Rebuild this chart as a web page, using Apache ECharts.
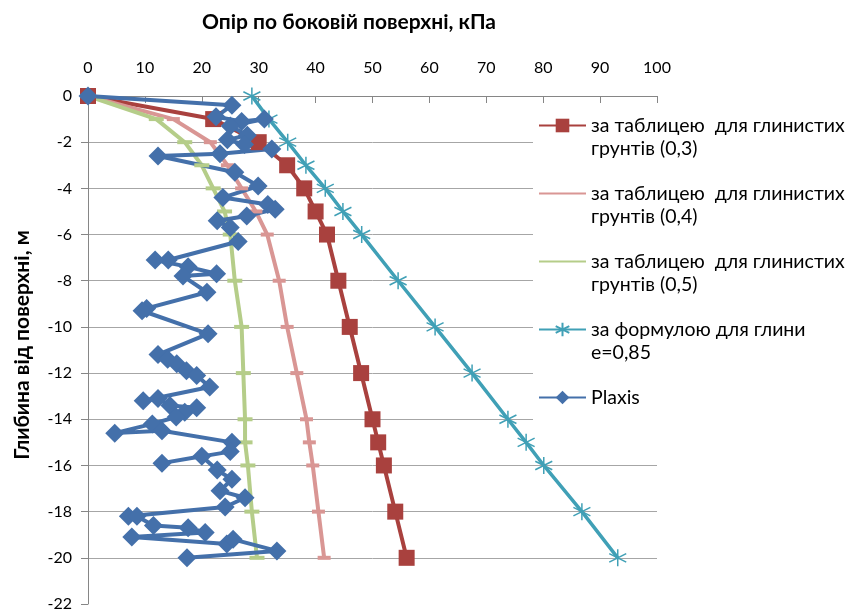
<!DOCTYPE html>
<html><head><meta charset="utf-8">
<script src="https://cdn.jsdelivr.net/npm/echarts@6/dist/echarts.min.js"></script>
<style>html,body{margin:0;padding:0;background:#fff}#c{width:849px;height:612px}</style>
</head><body><div id="c"></div>
<script>
// depths (m) for the table / formula curves
const depthTable = [0, -1, -2, -3, -4, -5, -6, -8, -10, -12, -14, -15, -16, -18, -20];
const table03 = [0, 22, 30, 35, 38, 40, 42, 44, 46, 48, 50, 51, 52, 54, 56];
const table04 = [0, 15, 21.5, 24.5, 27, 29.5, 31.5, 33.6, 35, 36.7, 38.4, 38.9, 39.5, 40.5, 41.5];
const table05 = [0, 12, 17, 20, 22, 24, 25, 25.8, 27, 27.3, 27.6, 27.6, 28.1, 28.8, 29.7];
const formula085 = [28.8, 31.8, 35.1, 38.3, 41.7, 44.8, 48.1, 54.5, 61, 67.5, 73.8, 77, 80.1, 86.8, 93.1];

const plaxisDepth = [0, -0.4, -0.9, -1.1, -1.0, -1.3, -1.7, -1.9, -2.1, -2.3, -2.5, -2.6, -3.3, -3.9, -4.4, -4.7, -4.9, -5.2, -5.4, -5.7, -6.3,
  -7.1, -7.1, -7.4, -7.7, -7.8, -8.5, -9.2, -9.3, -10.3, -11.2, -11.4, -11.6, -11.9, -12.1, -12.6,
  -13.2, -13.1, -13.4, -13.5, -13.7, -13.9, -14.2, -14.6, -14.5, -15.0, -15.4, -15.9, -15.6, -16.2, -16.6, -17.1, -17.4, -17.8,
  -18.2, -18.2, -18.6, -18.7, -18.9, -19.1, -19.4, -19.2, -19.7, -20.0];
const plaxisValue = [0, 25.3, 22.5, 27, 31, 25, 28, 24.5, 27.5, 32.3, 23.2, 12.3, 25.8, 29.9, 23.7, 31.6, 32.9, 27.9, 22.7, 25, 26.4,
  14.1, 11.8, 17.6, 22.6, 16.7, 20.9, 10.3, 9.5, 21.1, 12.3, 14, 15.6, 17.3, 19.1, 21.4,
  9.7, 12.3, 14.4, 19.1, 17, 15.5, 11.3, 4.7, 13, 25.3, 25, 13, 20, 22.7, 25.3, 23.2, 27.6, 24.1,
  7.1, 8.6, 11.5, 17.6, 20.6, 7.7, 24.4, 25.5, 33.2, 17.4];

const seriesNames = ['за таблицею  для глинистих\nгрунтів (0,3)', 'за таблицею  для глинистих\nгрунтів (0,4)',
  'за таблицею  для глинистих\nгрунтів (0,5)', 'за формулою для глини\ne=0,85', 'Plaxis'];
const xAxisTitle = 'Опір по боковій поверхні, кПа';
const yAxisTitle = 'Глибина від поверхні, м';

const pairs = (xs, ys) => xs.map((v, i) => [v, ys[i]]);
const FONT = 'Lato';
const asterisk = 'path://M10 0L10 20M1.34 5L18.66 15M1.34 15L18.66 5';
const hiddenSymbol = {opacity: 0, color: 'rgba(0,0,0,0)', borderWidth: 0};

const chart = echarts.init(document.getElementById('c'), null, {renderer: 'canvas'});
chart.setOption({
  animation: false,
  backgroundColor: '#fff',
  textStyle: {fontFamily: FONT},
  grid: {left: 88, top: 96, right: 192, bottom: 8, containLabel: false},
  graphic: [
    {type: 'rect', z: 1, shape: {x: 533, y: 104, width: 316, height: 322}, style: {fill: '#fff'}},
    {type: 'text', x: 349, y: 22, style: {text: xAxisTitle, font: 'bold 21px ' + FONT, fill: '#000', textAlign: 'center', textVerticalAlign: 'middle'}},
    {type: 'text', x: 22, y: 345, rotation: Math.PI / 2, style: {text: yAxisTitle, font: 'bold 21px ' + FONT, fill: '#000', textAlign: 'center', textVerticalAlign: 'middle'}}
  ],
  xAxis: {
    type: 'value', position: 'top', min: 0, max: 100, interval: 10,
    axisLine: {show: true, onZero: false, lineStyle: {color: '#868686', width: 1}},
    axisTick: {show: true, inside: true, length: 7, lineStyle: {color: '#868686'}},
    axisLabel: {color: '#000', fontSize: 16, margin: 20, fontFamily: FONT},
    splitLine: {show: false}
  },
  yAxis: {
    type: 'value', min: -22, max: 0, interval: 2,
    axisLine: {show: true, onZero: false, lineStyle: {color: '#868686', width: 1}},
    axisTick: {show: true, inside: false, length: 7, lineStyle: {color: '#868686'}},
    axisLabel: {color: '#000', fontSize: 16, margin: 16, fontFamily: FONT},
    splitLine: {show: true, showMinLine: false, lineStyle: {color: '#A6A6A6', width: 1}}
  },
  legend: {
    orient: 'vertical', left: 538, top: 91, padding: 0, itemWidth: 47, itemHeight: 17, itemGap: -1,
    formatter: n => ' \n' + (n.indexOf('\n') >= 0 ? n : n + '\n '),
    textStyle: {fontSize: 19.5, lineHeight: 23, color: '#000', fontFamily: FONT},
    data: [
      {name: seriesNames[0]},
      {name: seriesNames[1], itemStyle: hiddenSymbol},
      {name: seriesNames[2], itemStyle: hiddenSymbol},
      {name: seriesNames[3]},
      {name: seriesNames[4]}
    ]
  },
  series: [
    {name: seriesNames[0], type: 'line', data: pairs(table03, depthTable), symbol: 'rect', symbolSize: 16,
      lineStyle: {color: '#A9413E', width: 4}, itemStyle: {color: '#A9413E'}},
    {name: seriesNames[1], type: 'line', data: pairs(table04, depthTable), symbol: 'rect', symbolSize: [13, 4],
      lineStyle: {color: '#D99694', width: 4}, itemStyle: {color: '#D99694'}},
    {name: seriesNames[2], type: 'line', data: pairs(table05, depthTable), symbol: 'rect', symbolSize: [15, 4],
      lineStyle: {color: '#B5CD89', width: 4}, itemStyle: {color: '#B5CD89'}},
    {name: seriesNames[3], type: 'line', data: pairs(formula085, depthTable), symbol: asterisk, symbolSize: 17,
      lineStyle: {color: '#40A0B6', width: 3.5}, itemStyle: {color: '#40A0B6', borderColor: '#40A0B6', borderWidth: 1.5}},
    {name: seriesNames[4], type: 'line', data: pairs(plaxisValue, plaxisDepth), symbol: 'diamond', symbolSize: 19,
      lineStyle: {color: '#4470AA', width: 4}, itemStyle: {color: '#4470AA'}}
  ]
});
</script></body></html>
